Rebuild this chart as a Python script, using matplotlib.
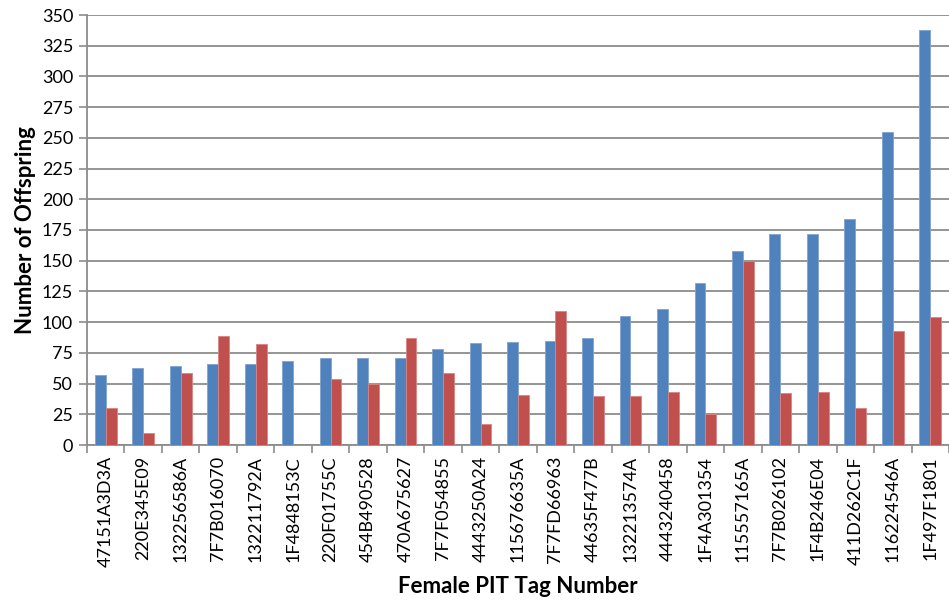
import numpy as np
import matplotlib.pyplot as plt

# data
tags = ["47151A3D3A", "220E345E09", "132256586A", "7F7B016070", "132211792A",
        "1F4848153C", "220F01755C", "454B490528", "470A675627", "7F7F054855",
        "4443250A24", "115676635A", "7F7FD66963", "44635F477B", "132213574A",
        "4443240458", "1F4A301354", "115557165A", "7F7B026102", "1F4B246E04",
        "411D262C1F", "116224546A", "1F497F1801"]
blue_vals = [57, 63, 64, 66, 66, 68, 71, 71, 71, 78, 83, 84, 85, 87, 105,
             111, 132, 158, 172, 172, 184, 255, 338]
red_vals = [30, 10, 59, 89, 82, 0, 54, 50, 87, 59, 17, 41, 109, 40, 40,
            43, 25, 150, 42, 43, 30, 93, 104]
y_ticks = list(range(0, 351, 25))

plt.rcParams['font.family'] = ['Lato', 'DejaVu Sans']

fig = plt.figure(figsize=(9.49, 6.05), dpi=100)
ax = fig.add_axes([87 / 949, (605 - 445) / 605, (949 - 87) / 949, 430 / 605])

x = np.arange(len(tags))
w = 0.29
ax.bar(x - w / 2, blue_vals, w, color="#4F81BD", edgecolor="#7FA3D1", linewidth=0.6, zorder=3)
ax.bar(x + w / 2, red_vals, w, color="#C0504D", edgecolor="#D88583", linewidth=0.6, zorder=3)

ax.set_ylim(0, 350)
ax.set_xlim(-0.5, -0.5 + (949 - 87) / 37.8)
ax.set_yticks(y_ticks)
ax.set_yticklabels([str(v) for v in y_ticks], fontsize=13)
ax.yaxis.grid(True, color="#8C8C8C", linewidth=1.3, zorder=0)
ax.set_axisbelow(True)

# category ticks sit between groups
ax.set_xticks(x)
ax.set_xticklabels(tags, rotation=90, fontsize=13)
ax.tick_params(axis='x', length=0, pad=8)
ax.set_xticks(np.arange(len(tags) + 1) - 0.5, minor=True)
ax.tick_params(axis='x', which='minor', length=6, color="#8C8C8C", width=1.2)
ax.tick_params(axis='y', length=6, color="#8C8C8C", width=1.2, pad=4)

for s in ['top', 'right']:
    ax.spines[s].set_visible(False)
for s in ['left', 'bottom']:
    ax.spines[s].set_color("#8C8C8C")
    ax.spines[s].set_linewidth(1.3)

ax.set_ylabel("Number of Offspring", fontsize=16, fontweight='bold', labelpad=4)
ax.set_xlabel("Female PIT Tag Number", fontsize=16, fontweight='bold', labelpad=6)

fig.savefig("out.png", dpi=100)
